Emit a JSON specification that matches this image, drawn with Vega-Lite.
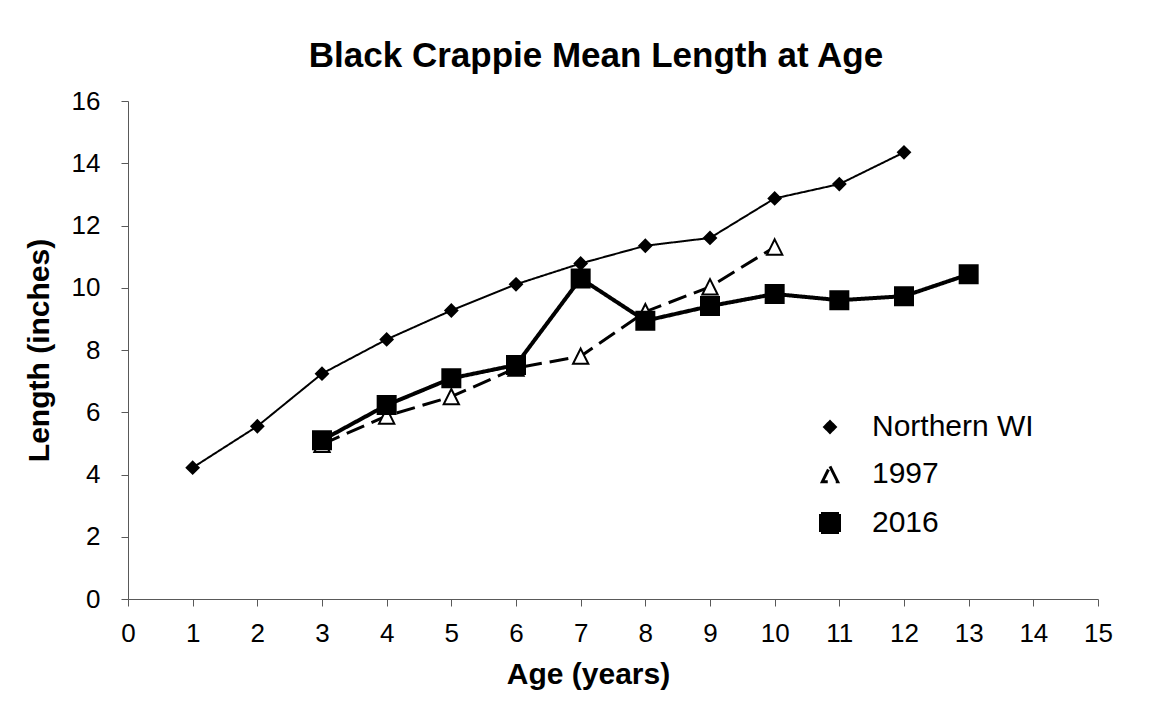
{
  "$schema": "https://vega.github.io/schema/vega-lite/v6.json",
  "autosize": "none",
  "width": 970,
  "height": 498,
  "padding": {"left": 128, "top": 101, "right": 63, "bottom": 104},
  "background": "white",
  "title": {
    "text": "Black Crappie Mean Length at Age",
    "font": "Liberation Sans",
    "fontSize": 35,
    "fontWeight": "bold",
    "color": "black",
    "anchor": "middle",
    "dx": -17,
    "offset": 14
  },
  "data": {
    "values": [
      {"series": "Northern WI", "age": 1, "length": 4.22},
      {"series": "Northern WI", "age": 2, "length": 5.55},
      {"series": "Northern WI", "age": 3, "length": 7.24},
      {"series": "Northern WI", "age": 4, "length": 8.34},
      {"series": "Northern WI", "age": 5, "length": 9.27},
      {"series": "Northern WI", "age": 6, "length": 10.11},
      {"series": "Northern WI", "age": 7, "length": 10.78},
      {"series": "Northern WI", "age": 8, "length": 11.35},
      {"series": "Northern WI", "age": 9, "length": 11.6},
      {"series": "Northern WI", "age": 10, "length": 12.87},
      {"series": "Northern WI", "age": 11, "length": 13.33},
      {"series": "Northern WI", "age": 12, "length": 14.35},
      {"series": "1997", "age": 3, "length": 4.97},
      {"series": "1997", "age": 4, "length": 5.88},
      {"series": "1997", "age": 5, "length": 6.5},
      {"series": "1997", "age": 6, "length": 7.42},
      {"series": "1997", "age": 7, "length": 7.8},
      {"series": "1997", "age": 8, "length": 9.23},
      {"series": "1997", "age": 9, "length": 10.03},
      {"series": "1997", "age": 10, "length": 11.31},
      {"series": "2016", "age": 3, "length": 5.1},
      {"series": "2016", "age": 4, "length": 6.23},
      {"series": "2016", "age": 5, "length": 7.09},
      {"series": "2016", "age": 6, "length": 7.52},
      {"series": "2016", "age": 7, "length": 10.3},
      {"series": "2016", "age": 8, "length": 8.94},
      {"series": "2016", "age": 9, "length": 9.41},
      {"series": "2016", "age": 10, "length": 9.8},
      {"series": "2016", "age": 11, "length": 9.6},
      {"series": "2016", "age": 12, "length": 9.73},
      {"series": "2016", "age": 13, "length": 10.43}
    ]
  },
  "encoding": {
    "x": {
      "field": "age",
      "type": "quantitative",
      "scale": {"domain": [0, 15], "nice": false, "zero": false},
      "axis": {
        "title": "Age (years)",
        "values": [0, 1, 2, 3, 4, 5, 6, 7, 8, 9, 10, 11, 12, 13, 14, 15],
        "labelPadding": 14,
        "titlePadding": 13,
        "titleX": 460
      }
    },
    "y": {
      "field": "length",
      "type": "quantitative",
      "scale": {"domain": [0, 16], "nice": false},
      "axis": {
        "title": "Length (inches)",
        "values": [0, 2, 4, 6, 8, 10, 12, 14, 16],
        "labelPadding": 21,
        "titlePadding": 17
      }
    }
  },
  "layer": [
    {
      "mark": {"type": "line", "color": "black", "strokeCap": "butt", "strokeJoin": "miter"},
      "encoding": {
        "detail": {"field": "series"},
        "strokeDash": {
          "field": "series",
          "type": "nominal",
          "scale": {"domain": ["Northern WI", "1997", "2016"], "range": [[1, 0], [19, 8], [1, 0]]},
          "legend": {
            "title": null,
            "orient": "none",
            "legendX": 687,
            "legendY": 311,
            "padding": 0,
            "symbolSize": 196,
            "labelFont": "Liberation Sans",
            "labelFontSize": 30,
            "labelColor": "black",
            "labelOffset": 27,
            "labelLimit": 400,
            "rowPadding": 17
          }
        },
        "strokeWidth": {
          "field": "series",
          "type": "nominal",
          "scale": {"domain": ["Northern WI", "1997", "2016"], "range": [2, 4, 4.5]}
        }
      }
    },
    {
      "mark": {"type": "point", "filled": true, "stroke": "black", "strokeWidth": 2, "opacity": 1},
      "encoding": {
        "shape": {
          "field": "series",
          "type": "nominal",
          "scale": {
            "domain": ["Northern WI", "1997", "2016"],
            "range": ["M0,-1L1,0L0,1L-1,0Z", "M0,-1L1,1L-1,1Z", "M-1,-1H1V1H-1Z"]
          }
        },
        "fill": {
          "field": "series",
          "type": "nominal",
          "scale": {"domain": ["Northern WI", "1997", "2016"], "range": ["black", "white", "black"]}
        },
        "size": {
          "field": "series",
          "type": "nominal",
          "scale": {"domain": ["Northern WI", "1997", "2016"], "range": [144, 324, 289]}
        }
      }
    }
  ],
  "config": {
    "view": {"stroke": null},
    "axis": {
      "grid": false,
      "domainColor": "#595959",
      "domainWidth": 1,
      "tickColor": "#595959",
      "tickSize": 7,
      "tickWidth": 1,
      "labelFont": "Liberation Sans",
      "labelFontSize": 26,
      "labelColor": "black",
      "titleFont": "Liberation Sans",
      "titleFontSize": 30,
      "titleFontWeight": "bold",
      "titleColor": "black",
      "labelFlush": false,
      "labelOverlap": false
    }
  }
}
